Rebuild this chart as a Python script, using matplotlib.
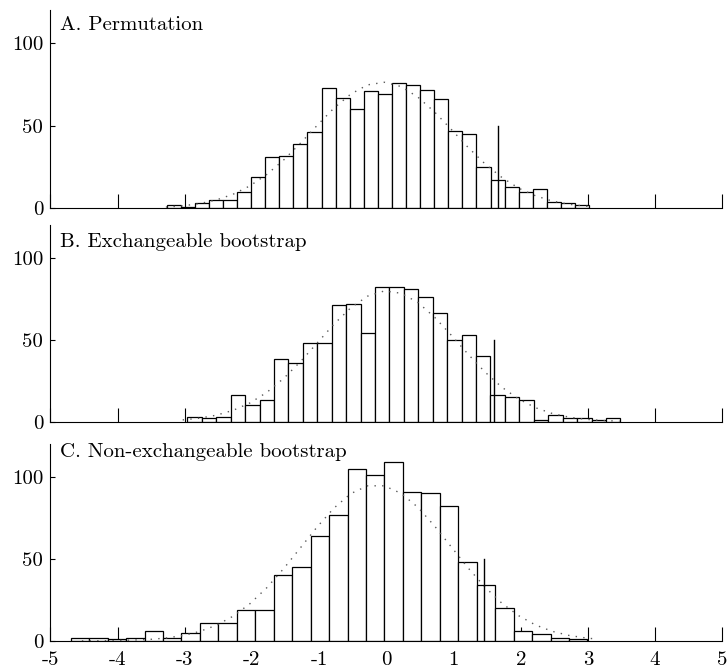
import matplotlib
matplotlib.use("Agg")
import matplotlib.pyplot as plt
import numpy as np

plt.rcParams['font.family'] = ['cmr10', 'DejaVu Serif']
plt.rcParams['axes.unicode_minus'] = False
plt.rcParams['mathtext.fontset'] = 'cm'

# ---------------- data ----------------
titles = ["A. Permutation", "B. Exchangeable bootstrap", "C. Non-exchangeable bootstrap"]

counts_a = [2, 1, 3, 5, 5, 10, 19, 31, 32, 39, 46, 73, 67, 60, 71, 69, 76, 75, 72, 66,
            47, 45, 25, 17, 13, 10, 12, 4, 3, 2]
first_edge_a = -3.268
bin_width_a = 0.2095

counts_b = [3, 2, 3, 16, 10, 13, 38, 36, 48, 48, 71, 72, 54, 82, 82, 81, 76, 66, 50, 53,
            40, 16, 15, 13, 1, 4, 2, 2, 1, 2]
first_edge_b = -2.961
bin_width_b = 0.2148

counts_c = [2, 2, 1, 2, 6, 2, 5, 11, 11, 19, 19, 40, 45, 64, 77, 105, 101, 109, 91, 90,
            82, 48, 34, 20, 6, 4, 2, 1]
first_edge_c = -4.696
bin_width_c = 0.2746

# observed statistic (vertical line)
observed = [1.667, 1.607, 1.449]
observed_height = 50

# fitted normal curves (dotted)
curve_x_a = [-3.28, -3.03, -2.78, -2.53, -2.28, -2.03, -1.78, -1.53, -1.28, -1.03, -0.78,
             -0.53, -0.28, -0.03, 0.22, 0.47, 0.72, 0.97, 1.22, 1.47, 1.72, 1.97, 2.22,
             2.47, 2.72, 2.97, 3.07]
curve_y_a = [0.76, 1.51, 2.84, 5.06, 8.53, 13.6, 20.5, 29.2, 39.4, 50.2, 60.7, 69.2, 74.8,
             76.4, 73.8, 67.4, 58.3, 47.7, 36.8, 26.9, 18.7, 12.2, 7.6, 4.4, 2.45, 1.28, 0.98]

curve_x_b = [-3.03, -2.78, -2.53, -2.28, -2.03, -1.78, -1.53, -1.28, -1.03, -0.78, -0.53,
             -0.28, -0.03, 0.22, 0.47, 0.72, 0.97, 1.22, 1.47, 1.72, 1.97, 2.22, 2.47,
             2.72, 2.97, 3.22, 3.47]
curve_y_b = [1.08, 2.13, 3.95, 6.91, 11.4, 17.8, 26.3, 36.5, 47.9, 59.4, 69.4, 76.5, 79.7,
             78.3, 72.7, 63.6, 52.6, 41.0, 30.2, 21.0, 13.8, 8.5, 4.97, 2.74, 1.43, 0.70, 0.33]

curve_x_c = [-4.53, -4.03, -3.53, -3.28, -3.03, -2.78, -2.53, -2.28, -2.03, -1.78, -1.53,
             -1.28, -1.03, -0.78, -0.53, -0.28, -0.03, 0.22, 0.47, 0.72, 0.97, 1.22, 1.47,
             1.72, 1.97, 2.22, 2.47, 2.72, 2.97, 3.07]
curve_y_c = [0.04, 0.21, 0.92, 1.79, 3.29, 5.75, 9.56, 15.1, 22.7, 32.4, 44.0, 56.7, 69.5,
             81.0, 89.8, 94.6, 94.6, 90.0, 81.5, 70.0, 57.2, 44.4, 32.8, 23.0, 15.4, 9.74,
             5.87, 3.36, 1.83, 1.42]

x_ticks = [-5, -4, -3, -2, -1, 0, 1, 2, 3, 4, 5]
x_tick_labels = ["-5", "-4", "-3", "-2", "-1", "0", "1", "2", "3", "4", "5"]
y_ticks = [0, 50, 100]
y_tick_labels = ["0", "50", "100"]

panels = [
    (counts_a, first_edge_a, bin_width_a, curve_x_a, curve_y_a),
    (counts_b, first_edge_b, bin_width_b, curve_x_b, curve_y_b),
    (counts_c, first_edge_c, bin_width_c, curve_x_c, curve_y_c),
]

# ---------------- layout ----------------
fig = plt.figure(figsize=(7.28, 6.69), dpi=100)
rects = [
    [0.0691, 0.6886, 0.9231, 0.2960],
    [0.0691, 0.3697, 0.9231, 0.2942],
    [0.0691, 0.0419, 0.9231, 0.2942],
]
title_y = [0.900, 0.890, 0.933]

for i, (counts, e0, bw, cx, cy) in enumerate(panels):
    ax = fig.add_axes(rects[i])
    counts = np.asarray(counts)
    lefts = e0 + bw * np.arange(len(counts))
    ax.bar(lefts, counts, width=bw, align='edge', facecolor='white',
           edgecolor='black', linewidth=0.9, zorder=2)
    ax.plot(cx, cy, linestyle=(0, (1, 4.5)), color='0.35', linewidth=1.0, zorder=3)
    ax.plot([observed[i], observed[i]], [0, observed_height], color='black',
            linewidth=1.0, zorder=3)

    ax.set_xlim(-5, 5)
    ax.set_ylim(0, 120)
    ax.set_axisbelow(True)
    for s in ['top', 'right']:
        ax.spines[s].set_visible(False)
    for s in ['left', 'bottom']:
        ax.spines[s].set_linewidth(0.8)
        ax.spines[s].set_zorder(4)

    ax.set_xticks(x_ticks)
    ax.set_yticks(y_ticks)
    ax.set_yticklabels(y_tick_labels)
    if i == 2:
        ax.set_xticklabels(x_tick_labels)
    else:
        ax.set_xticklabels([])
    ax.tick_params(axis='x', direction='in', length=10, width=0.8, pad=7, labelsize=15)
    ax.tick_params(axis='y', direction='in', length=3.6, width=0.8, pad=5, labelsize=15)

    ax.text(0.0144, title_y[i], titles[i], transform=ax.transAxes,
            ha='left', va='baseline', fontsize=15)

fig.savefig("out.png", dpi=100)
